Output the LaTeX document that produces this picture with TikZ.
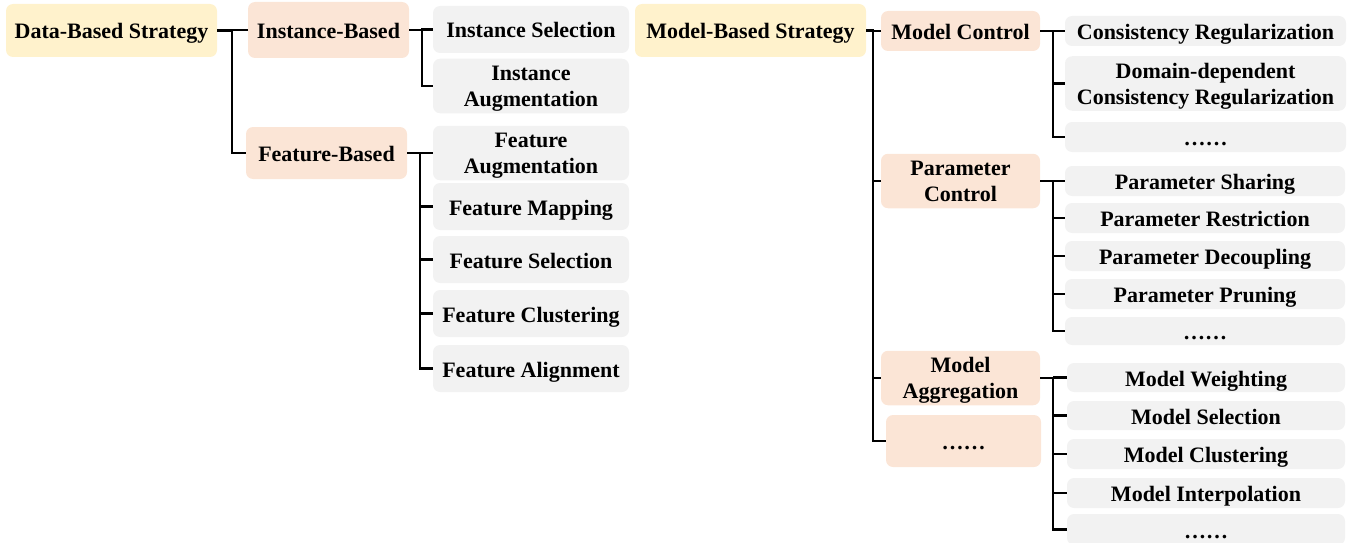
\documentclass[tikz,border=0pt]{standalone}
\usepackage{fontspec}
\setmainfont{Liberation Serif}
\usetikzlibrary{calc}
\definecolor{ylw}{HTML}{FFF2CC}
\definecolor{org}{HTML}{FBE5D6}
\definecolor{gry}{HTML}{F2F2F2}
\newcommand{\bx}[7]{\node[#2, minimum width={(#5-#3)*1pt}, minimum height={(#6-#4)*1pt}] (#1) at ({(#3+#5)/2},{(#4+#6)/2}) {#7};}
\newcommand{\topst}{\rule{0pt}{22pt}}
\newcommand{\botst}{\rule[-6.5pt]{0pt}{6.5pt}}
\tikzset{
  basebox/.style={rounded corners=7pt, inner sep=0pt, align=center, draw=none,
    font=\fontsize{22}{26}\selectfont\bfseries},
  ybox/.style={basebox, fill=ylw},
  obox/.style={basebox, fill=org},
  gbox/.style={basebox, fill=gry},
  one/.style={text height=17pt, text depth=0pt},
  conn/.style={line width=2.2pt, black, line join=miter}
}
\begin{document}
\begin{tikzpicture}[x=1pt,y=-1pt]
\useasboundingbox (0,0) rectangle (1357,543);
% level 0
\bx{data}{ybox,one}{6}{4}{217}{57}{Data-Based Strategy}
\bx{model}{ybox,one}{635}{4}{866}{57}{Model-Based Strategy}
% level 1
\bx{inst}{obox,one}{248}{2}{409}{58}{Instance-Based}
\bx{feat}{obox,one}{246}{127}{407}{179}{Feature-Based}
\bx{mctrl}{obox,one}{881}{11}{1040}{51}{Model Control}
\bx{pctrl}{obox}{881}{155}{1040}{207}{\topst Parameter\\Control\botst}
\bx{magg}{obox}{881}{352}{1040}{404}{\topst Model\\Aggregation\botst}
\bx{mdots}{obox,one}{886}{415}{1041}{467}{……}
% level 2, data side
\bx{isel}{gbox,one}{433}{6}{629}{53}{Instance Selection}
\bx{iaug}{gbox}{433}{63}{629}{109}{\topst Instance\\Augmentation\botst}
\bx{faug}{gbox}{433}{129}{629}{177}{\topst Feature\\Augmentation\botst}
\bx{fmap}{gbox,one}{433}{183}{629}{230}{Feature Mapping}
\bx{fsel}{gbox,one}{433}{236}{629}{283}{Feature Selection}
\bx{fclu}{gbox,one}{433}{290}{629}{337}{Feature Clustering}
\bx{fali}{gbox,one}{433}{345}{629}{392}{Feature Alignment}
% level 2, model side
\bx{creg}{gbox,one}{1065}{16}{1346}{46}{Consistency Regularization}
\bx{dreg}{gbox}{1065}{57}{1346}{110}{\topst Domain-dependent\\Consistency Regularization\botst}
\bx{cdots}{gbox,one}{1065}{122}{1346}{152}{……}
\bx{psha}{gbox,one}{1065}{166}{1345}{196}{Parameter Sharing}
\bx{pres}{gbox,one}{1065}{203}{1345}{233}{Parameter Restriction}
\bx{pdec}{gbox,one}{1065}{241}{1345}{271}{Parameter Decoupling}
\bx{ppru}{gbox,one}{1065}{279}{1345}{309}{Parameter Pruning}
\bx{pdots}{gbox,one}{1065}{317}{1345}{345}{……}
\bx{mwei}{gbox,one}{1067}{363}{1345}{392}{Model Weighting}
\bx{msel}{gbox,one}{1067}{401}{1345}{430}{Model Selection}
\bx{mclu}{gbox,one}{1067}{439}{1345}{469}{Model Clustering}
\bx{mint}{gbox,one}{1067}{478}{1345}{508}{Model Interpolation}
\bx{mdt}{gbox,one}{1067}{514}{1345}{545}{……}
% branch points
\coordinate (bd) at ($(data.east)+(15,0)$);
\coordinate (bi) at ($(inst.east)+(13,0)$);
\coordinate (bf) at ($(feat.east)+(13,0)$);
\coordinate (bm) at ($(model.east)+(7,0)$);
\coordinate (bc) at ($(mctrl.east)+(13,0)$);
\coordinate (bp) at ($(pctrl.east)+(13,0)$);
\coordinate (ba) at ($(magg.east)+(13,0)$);
% connectors
\draw[conn] (data.east) -- (bd) |- (feat.west);
\draw[conn] (bd) -- (bd |- inst.west) -- (inst.west);
\draw[conn] (inst.east) -- (bi) |- (iaug.west);
\draw[conn] (bi) -- (bi |- isel.west) -- (isel.west);
\draw[conn] (feat.east) -- (bf) |- (fali.west);
\foreach \n in {faug,fmap,fsel,fclu} \draw[conn] (bf |- \n.west) -- (\n.west);
\draw[conn] (model.east) -- (bm) |- (mdots.west);
\foreach \n in {mctrl,pctrl,magg} \draw[conn] (bm |- \n.west) -- (\n.west);
\draw[conn] (mctrl.east) -- (bc) |- (cdots.west);
\foreach \n in {creg,dreg} \draw[conn] (bc |- \n.west) -- (\n.west);
\draw[conn] (pctrl.east) -- (bp) |- (pdots.west);
\foreach \n in {psha,pres,pdec,ppru} \draw[conn] (bp |- \n.west) -- (\n.west);
\draw[conn] (magg.east) -- (ba) |- (mdt.west);
\foreach \n in {mwei,msel,mclu,mint} \draw[conn] (ba |- \n.west) -- (\n.west);
\end{tikzpicture}
\end{document}
